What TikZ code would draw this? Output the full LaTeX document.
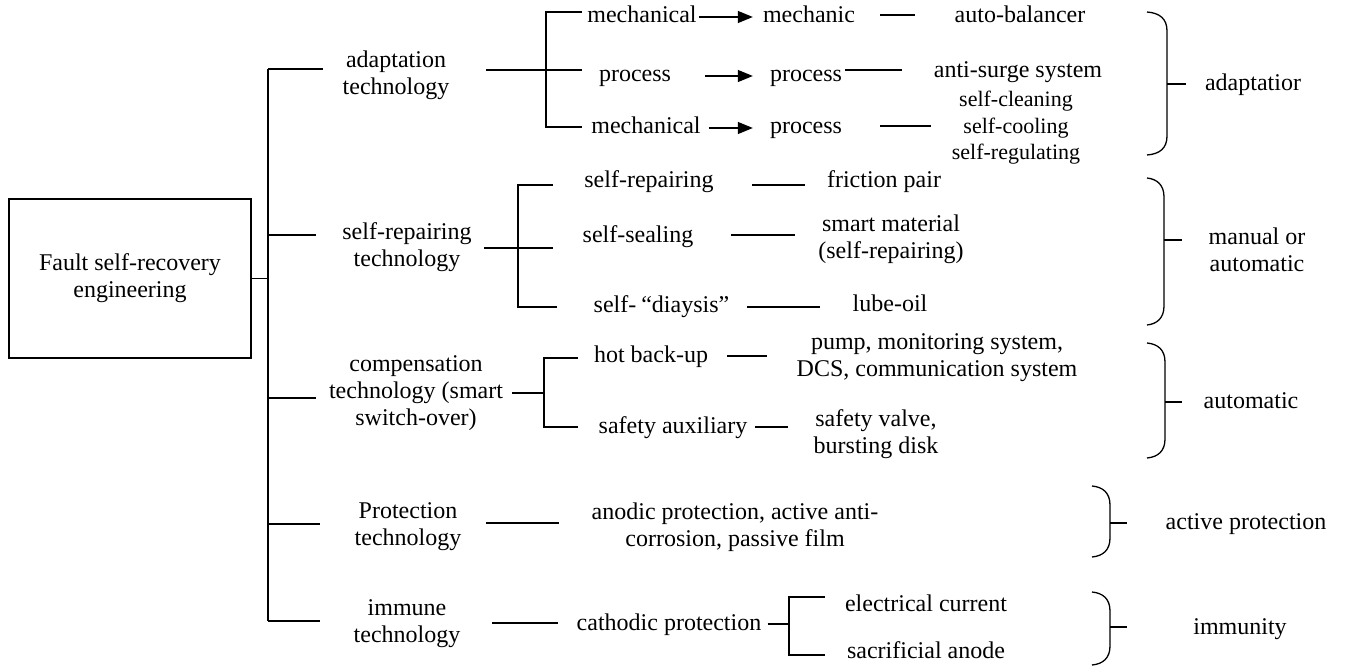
\documentclass[tikz,border=0pt]{standalone}
\usepackage{fontspec}
\setmainfont{Liberation Serif}
\usetikzlibrary{arrows.meta}

% right-hand curly bracket: left x, spine x, top y, bottom y, stub y, stub end x
\newcommand\rgtbrace[6]{%
  \draw[ln] (#1,#3) .. controls (#2-7,#3+1) and (#2,#3+7) .. (#2,#3+19)
     -- (#2,#4-19) .. controls (#2,#4-7) and (#2-7,#4-1) .. (#1,#4);
  \draw[ln] (#2,#5) -- (#6,#5);}

\begin{document}
\begin{tikzpicture}[x=1pt,y=-1pt,
  every node/.style={inner sep=0pt, align=center, font=\fontsize{24}{27}\selectfont},
  one/.style={text height=17pt, text depth=5pt},
  sm/.style={font=\fontsize{22}{26.5}\selectfont},
  ln/.style={line width=1.3pt},
  arr/.style={ln, -{Triangle[length=15pt,width=12pt]}}]
\useasboundingbox (0,0) rectangle (1346,671);

% ---- root and trunk
\node[draw, line width=1.2pt, minimum width=242pt, minimum height=159pt] (root) at (130,278.5)
  {Fault self-recovery\\engineering};
\coordinate (tTop) at (268,69);
\coordinate (tBot) at (268,621);
\draw[ln] (root.east) -- (root.east -| tTop);
\draw[ln] (tTop) -- (tBot);

% ---- first-level technologies
\node (adapt)   at (396,75)  {adaptation\\technology};
\node (selfrep) at (407,247) {self-repairing\\technology};
\node (comp)    at (416,393) {compensation\\technology (smart\\switch-over)};
\node (prot)    at (408,527) {Protection\\technology};
\node (immune)  at (407,624) {immune\\technology};

\coordinate (b1) at (323,69);
\coordinate (b2) at (316,235);
\coordinate (b3) at (316,398);
\coordinate (b4) at (320,524);
\coordinate (b5) at (320,621);
\draw[ln] (tTop) -- (b1);
\draw[ln] (tTop |- b2) -- (b2);
\draw[ln] (tTop |- b3) -- (b3);
\draw[ln] (tTop |- b4) -- (b4);
\draw[ln] (tBot) -- (b5);

% ---- adaptation technology
\coordinate (aIn) at (486,70);
\coordinate (aS1) at (582,12);
\coordinate (aS2) at (582,70);
\coordinate (aS3) at (582,127);
\coordinate (aV)  at (546,70);
\draw[ln] (aIn) -- (aS2);
\draw[ln] (aS1) -| (aV) |- (aS3);

\node[one] (m1)  at (642,17)  {mechanical};
\node[one] (m1b) at (809,17)  {mechanic};
\node[one] (ab)  at (1020,17) {auto-balancer};
\draw[arr] ([xshift=2pt]m1.east) -- ([xshift=-10pt]m1b.west);
\coordinate (d1s) at (880,15); \coordinate (d1e) at (915,15);
\draw[ln] (d1s) -- (d1e);

\node[one] (p1)  at (635,76)  {process};
\node[one] (p1b) at (806,76)  {process};
\node[one] (as)  at (1018,72) {anti-surge system};
\draw[arr] ([xshift=34pt]p1.east) -- ([xshift=-17pt]p1b.west);
\coordinate (d2s) at (845,70); \coordinate (d2e) at (902,70);
\draw[ln] (d2s) -- (d2e);

\node[one] (m3)  at (646,128) {mechanical};
\node[one] (p3)  at (806,128) {process};
\node[sm]  (sc)  at (1016,128) {self-cleaning\\self-cooling\\self-regulating};
\draw[arr] ([xshift=8pt]m3.east) -- ([xshift=-17pt]p3.west);
\coordinate (d3s) at (880,126); \coordinate (d3e) at (931,126);
\draw[ln] (d3s) -- (d3e);

% ---- self-repairing technology
\coordinate (rIn) at (484,248);
\coordinate (rS1) at (553,185);
\coordinate (rS2) at (553,248);
\coordinate (rS3) at (557,307);
\coordinate (rV)  at (518,248);
\draw[ln] (rIn) -- (rS2);
\draw[ln] (rS1) -| (rV) |- (rS3);

\node[one] (sr1) at (649,182) {self-repairing};
\node[one] (fp)  at (884,182) {friction pair};
\coordinate (e1s) at (752,185); \coordinate (e1e) at (805,185);
\draw[ln] (e1s) -- (e1e);

\node[one] (ss)  at (638,236) {self-sealing};
\node (smat) at (891,239) {smart material\\(self-repairing)};
\coordinate (e2s) at (731,235); \coordinate (e2e) at (795,235);
\draw[ln] (e2s) -- (e2e);

\node[one] (sd)  at (663,306) {self-\hspace{5pt}“diaysis”\hspace{3pt}};
\node[one] (lo)  at (890,305) {lube-oil};
\coordinate (e3s) at (747,307); \coordinate (e3e) at (820,307);
\draw[ln] (e3s) -- (e3e);

% ---- compensation technology
\coordinate (cIn) at (512,393);
\coordinate (cS1) at (578,358);
\coordinate (cS2) at (578,427);
\coordinate (cV)  at (544,393);
\draw[ln] (cIn) -- (cV);
\draw[ln] (cS1) -| (cV) |- (cS2);

\node[one] (hb)  at (651,356) {hot back-up};
\node (pump) at (937,358) {pump, monitoring system,\\DCS, communication system};
\coordinate (f1s) at (727,356); \coordinate (f1e) at (767,356);
\draw[ln] (f1s) -- (f1e);

\node[one] (sa)  at (673,427) {safety auxiliary};
\node (sv) at (876,434) {safety valve,\\bursting disk};
\coordinate (f2s) at (755,427); \coordinate (f2e) at (788,427);
\draw[ln] (f2s) -- (f2e);

% ---- protection technology
\coordinate (pS) at (486,523);
\coordinate (pE) at (559,523);
\draw[ln] (pS) -- (pE);
\node (anod) at (735,527) {anodic protection, active anti-\\corrosion, passive film};

% ---- immune technology
\coordinate (iS) at (492,623);
\coordinate (iE) at (558,623);
\draw[ln] (iS) -- (iE);
\node[one] (cath) at (669,624) {cathodic protection};
\coordinate (kV) at (789,624);
\coordinate (kS1) at (825,597);
\coordinate (kS2) at (825,655);
\draw[ln] ([xshift=6pt]cath.east) -- (kV);
\draw[ln] (kS1) -| (kV) |- (kS2);
\node[one] (ec)  at (926,605) {electrical current};
\node[one] (sac) at (926,652) {sacrificial anode};

% ---- brackets and categories
\rgtbrace{1147}{1167}{12}{155}{84}{1186}
\node[one] (cat1) at (1253,85) {adaptatior};

\rgtbrace{1147}{1164}{178}{325}{240}{1182}
\node (cat2) at (1257,250) {manual or\\automatic};

\rgtbrace{1147}{1165}{343}{458}{402}{1182}
\node[one] (cat3) at (1251,402) {automatic};

\rgtbrace{1092}{1110}{486}{557}{523}{1127}
\node[one] (cat4) at (1246,523) {active protection};

\rgtbrace{1092}{1110}{592}{665}{627}{1127}
\node[one] (cat5) at (1240,628) {immunity};
\end{tikzpicture}
\end{document}
